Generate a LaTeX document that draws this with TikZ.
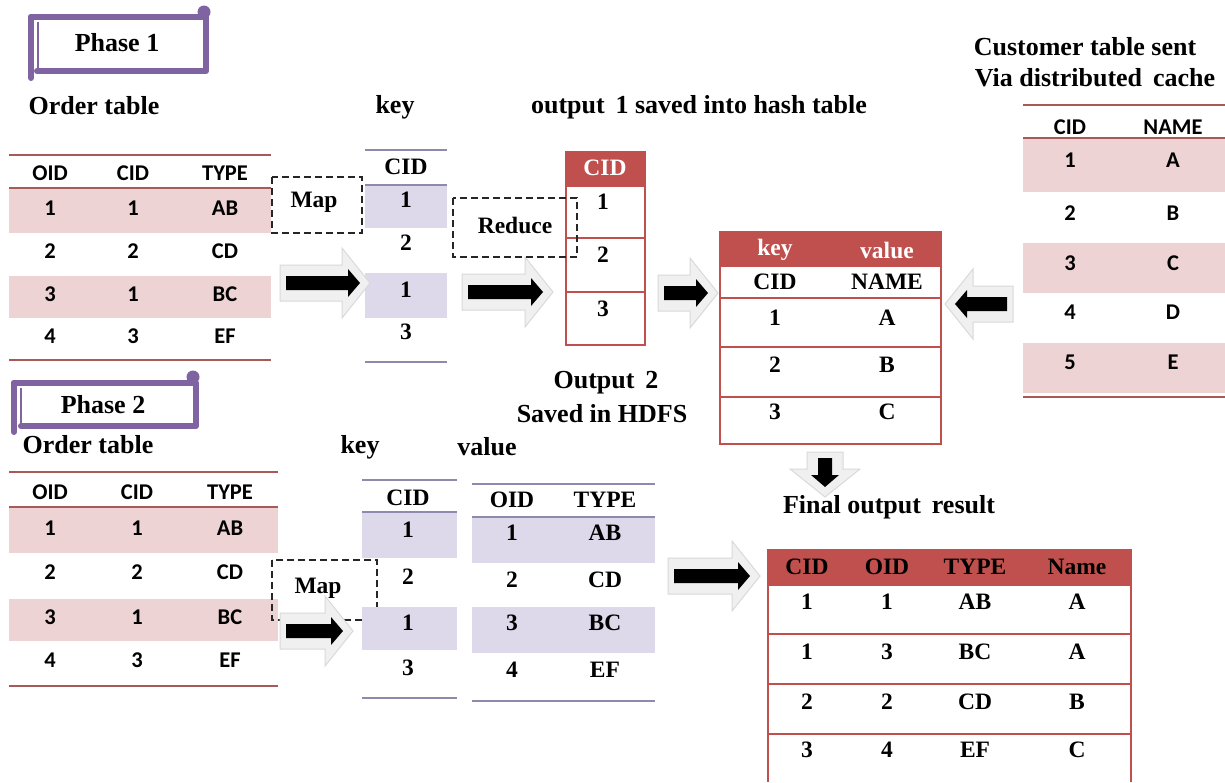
\documentclass[tikz,border=0pt]{standalone}
\usepackage{fontspec}
\setmainfont{Liberation Serif}
\newfontfamily\carl{Carlito}
\definecolor{pinkb}{HTML}{EDD3D3}
\definecolor{lavb}{HTML}{DDD9EA}
\definecolor{redh}{HTML}{C0504D}
\definecolor{rulr}{HTML}{A65B58}
\definecolor{rulp}{HTML}{8E8AAE}
\definecolor{scrl}{HTML}{8064A2}
\tikzset{
 sf/.style={font=\fontsize{26}{29}\selectfont\bfseries, inner sep=0pt},
 tf/.style={font=\fontsize{23.5}{26}\selectfont\bfseries, inner sep=0pt},
 cf/.style={font=\carl\fontsize{22.5}{25}\selectfont\bfseries, inner sep=0pt},
 wf/.style={tf, text=white},
 rulered/.style={draw=rulr, line width=1.6},
 ruleprp/.style={draw=rulp, line width=1.6},
 cellline/.style={draw=redh, line width=1.2},
 dashbox/.style={draw=black!85, dash pattern=on 7pt off 4pt, line width=1.5},
 scrollline/.style={draw=scrl, line width=6, line cap=round, line join=round},
 grayarrow/.style={fill=gray!12, draw=gray!30, line width=1},
}
\newcommand\BArrow[4]{%
 \begin{scope}[shift={(#1,#2)},rotate=#3]
  \path[grayarrow] (-#4,-18) -- (-28,-18) -- (-28,-35) -- (0,0) -- (-28,35) -- (-28,18) -- (-#4,18) -- cycle;
  \fill[black] (-#4+6,-7) -- (-22,-7) -- (-22,-14) -- (-10,0) -- (-22,14) -- (-22,7) -- (-#4+6,7) -- cycle;
 \end{scope}}
\begin{document}
\begin{tikzpicture}[x=1pt,y=-1pt]
\useasboundingbox (0,0) rectangle (1225,782);
\fill[white] (0,0) rectangle (1225,782);

% ---------- Phase 1 scroll ----------
\draw[scrollline] (31,17) -- (206,17) -- (206,71) -- (37,71);
\draw[scrollline] (31,17) -- (31,78);
\draw[scrl, line width=2] (38,22) -- (38,71);
\fill[scrl] (204,12) circle (6.5);
\node[sf] (ph1) at (117,43) {Phase 1};

\node[sf] (ot1) at (94,106) {Order table};
\node[sf] (key1) at (395,107) {key};
\node[sf] (out1) at (699,107) {output\, 1 saved into hash table};
\node[sf] (cust1) at (1085,47) {Customer table sent};
\node[sf] (cust2) at (1095,78) {Via distributed\, cache};

% ---------- Order table 1 ----------
\fill[pinkb] (9,188) rectangle (271,233);
\fill[pinkb] (9,276) rectangle (271,318);
\draw[rulered] (9,155) -- (271,155);
\draw[rulered] (9,188) -- (271,188);
\draw[rulered] (9,360) -- (271,360);
\node[cf] (o1h1) at (50,173) {OID};
\node[cf] (o1h2) at (133,173) {CID};
\node[cf] (o1h3) at (225,173) {TYPE};
\foreach \a/\b/\c/\y [count=\i] in {1/1/AB/208,2/2/CD/251,3/1/BC/294,4/3/EF/336}{
  \node[cf] (o1a\i) at (50,\y) {\a};
  \node[cf] (o1b\i) at (133,\y) {\b};
  \node[cf] (o1c\i) at (225,\y) {\c};
}

% Map box 1
\draw[dashbox] (272,177) rectangle (362,233);
\node[tf] (map1) at (314,202) {Map};

% ---------- Key table 1 ----------
\fill[lavb] (365,185) rectangle (447,228);
\fill[lavb] (365,273) rectangle (447,318);
\draw[ruleprp] (365,150) -- (447,150);
\draw[ruleprp] (365,185) -- (447,185);
\draw[ruleprp] (365,362) -- (447,362);
\node[tf] (k1h) at (406,167) {CID};
\foreach \v/\y [count=\i] in {1/200,2/243,1/290,3/332}{
  \node[tf] (k1r\i) at (406,\y) {\v};
}

% arrows phase 1
\BArrow{370}{283}{0}{90}
\BArrow{553}{292}{0}{91}
\BArrow{718}{293}{0}{60}
\BArrow{945}{304}{180}{68}

% ---------- Output 1 table ----------
\fill[redh] (566,152) rectangle (645,187);
\draw[cellline] (566,152) rectangle (645,345);
\draw[cellline] (566,238) -- (645,238);
\draw[cellline] (566,292) -- (645,292);
\node[wf] (t1h) at (605,168) {CID};
\node[tf] (t1r1) at (603,202) {1};
\node[tf] (t1r2) at (603,255) {2};
\node[tf] (t1r3) at (603,309) {3};

% Reduce box
\draw[dashbox] (453,198) rectangle (577,257);
\node[tf] (red1) at (515,225) {Reduce};

% ---------- Key-value table ----------
\fill[redh] (720,232) rectangle (941,267);
\draw[cellline] (720,232) rectangle (941,444);
\draw[cellline] (720,298) -- (941,298);
\draw[cellline] (720,347) -- (941,347);
\draw[cellline] (720,397) -- (941,397);
\node[wf] (kvh1) at (775,250) {key};
\node[wf] (kvh2) at (887,250) {value};
\node[tf] (kvs1) at (775,282) {CID};
\node[tf] (kvs2) at (887,282) {NAME};
\foreach \a/\b/\y [count=\i] in {1/A/318,2/B/365,3/C/412}{
  \node[tf] (kva\i) at (775,\y) {\a};
  \node[tf] (kvb\i) at (887,\y) {\b};
}

% ---------- Customer table ----------
\fill[pinkb] (1023,138) rectangle (1225,192);
\fill[pinkb] (1023,243) rectangle (1225,293);
\fill[pinkb] (1023,343) rectangle (1225,393);
\draw[rulered] (1023,105) -- (1225,105);
\draw[rulered] (1023,138) -- (1225,138);
\draw[rulered] (1023,397) -- (1225,397);
\node[cf] (cth1) at (1070,127) {CID};
\node[cf] (cth2) at (1173,127) {NAME};
\foreach \a/\b/\y [count=\i] in {1/A/160,2/B/213,3/C/263,4/D/312,5/E/362}{
  \node[cf] (cta\i) at (1070,\y) {\a};
  \node[cf] (ctb\i) at (1173,\y) {\b};
}

% ---------- Phase 2 ----------
\draw[scrollline] (14,383) -- (196,383) -- (196,426) -- (21,426);
\draw[scrollline] (14,383) -- (14,432);
\draw[scrl, line width=2] (21,388) -- (21,426);
\fill[scrl] (193,377) circle (6.5);
\node[sf] (ph2) at (103,405) {Phase 2};

\node[sf] (ot2) at (88,445) {Order table};
\node[sf] (key2) at (360,447) {key};
\node[sf] (val2) at (487,447) {value};
\node[sf] (outA) at (606,383) {Output\, 2};
\node[sf] (outB) at (602,414) {Saved in HDFS};
\node[sf] (fin) at (889,507) {Final output\, result};

% Order table 2
\fill[pinkb] (9,507) rectangle (278,553);
\fill[pinkb] (9,599) rectangle (278,641);
\draw[rulered] (9,472) -- (278,472);
\draw[rulered] (9,507) -- (278,507);
\draw[rulered] (9,686) -- (278,686);
\node[cf] (o2h1) at (50,492) {OID};
\node[cf] (o2h2) at (137,492) {CID};
\node[cf] (o2h3) at (230,492) {TYPE};
\foreach \a/\b/\c/\y [count=\i] in {1/1/AB/528,2/2/CD/572,3/1/BC/617,4/3/EF/660}{
  \node[cf] (o2a\i) at (50,\y) {\a};
  \node[cf] (o2b\i) at (137,\y) {\b};
  \node[cf] (o2c\i) at (230,\y) {\c};
}

% Map box 2
\draw[dashbox] (272,560) rectangle (377,620);
\node[tf] (map2) at (318,588) {Map};
\BArrow{353}{631}{0}{73}

% Key table 2
\fill[lavb] (362,512) rectangle (457,558);
\fill[lavb] (362,607) rectangle (457,650);
\draw[ruleprp] (362,480) -- (457,480);
\draw[ruleprp] (362,512) -- (457,512);
\draw[ruleprp] (362,698) -- (457,698);
\node[tf] (k2h) at (408,498) {CID};
\foreach \v/\y [count=\i] in {1/530,2/577,1/623,3/668}{
  \node[tf] (k2r\i) at (408,\y) {\v};
}

% Value table 2
\fill[lavb] (472,517) rectangle (655,563);
\fill[lavb] (472,607) rectangle (655,653);
\draw[ruleprp] (472,484) -- (655,484);
\draw[ruleprp] (472,517) -- (655,517);
\draw[ruleprp] (472,701) -- (655,701);
\node[tf] (v2h1) at (512,500) {OID};
\node[tf] (v2h2) at (605,500) {TYPE};
\foreach \a/\b/\y [count=\i] in {1/AB/533,2/CD/580,3/BC/623,4/EF/670}{
  \node[tf] (v2a\i) at (512,\y) {\a};
  \node[tf] (v2b\i) at (605,\y) {\b};
}

% arrows phase 2
\BArrow{760}{576}{0}{92}
\BArrow{825}{497}{-90}{45}

% Final table
\fill[redh] (768,550) rectangle (1131,585);
\draw[cellline] (768,782) -- (768,550) -- (1131,550) -- (1131,782);
\draw[cellline] (768,585) -- (1131,585);
\draw[cellline] (768,634) -- (1131,634);
\draw[cellline] (768,684) -- (1131,684);
\draw[cellline] (768,734) -- (1131,734);
\node[tf] (fh1) at (807,567) {CID};
\node[tf] (fh2) at (887,567) {OID};
\node[tf] (fh3) at (975,567) {TYPE};
\node[tf] (fh4) at (1077,567) {Name};
\foreach \a/\b/\c/\d/\y [count=\i] in {1/1/AB/A/602,1/3/BC/A/652,2/2/CD/B/702,3/4/EF/C/750}{
  \node[tf] (fa\i) at (807,\y) {\a};
  \node[tf] (fb\i) at (887,\y) {\b};
  \node[tf] (fc\i) at (975,\y) {\c};
  \node[tf] (fd\i) at (1077,\y) {\d};
}
\end{tikzpicture}
\end{document}
